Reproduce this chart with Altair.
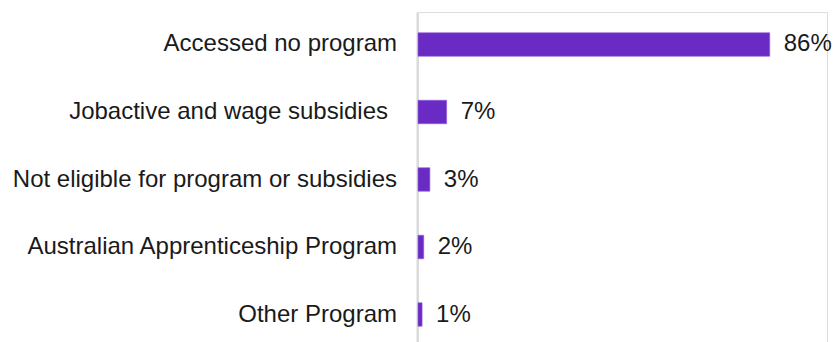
import altair as alt
import pandas as pd

categories = [
    "Accessed no program",
    "Jobactive and wage subsidies",
    "Not eligible for program or subsidies",
    "Australian Apprenticeship Program",
    "Other Program",
]
values = [86, 7, 2.9, 1.4, 1.0]
labels = ["86%", "7%", "3%", "2%", "1%"]
# the original label for Jobactive carries a trailing space, shifting it left
trailing_space = [False, True, False, False, False]

df = pd.DataFrame(
    {"category": categories, "value": values, "label": labels, "trail": trailing_space}
)

FONT = "Liberation Sans, Arial, sans-serif"
BAR = "#6A2BC4"
TXT = "#1a1a1a"

y = alt.Y(
    "category:N",
    sort=categories,
    scale=alt.Scale(paddingInner=0.652, paddingOuter=0.2704, align=0.5685),
    axis=alt.Axis(
        title=None,
        ticks=False,
        grid=False,
        labels=False,
        domain=True,
        domainColor="#D9D9D9",
        domainWidth=2,
        offset=1,
    ),
)
x = alt.X("value:Q", scale=alt.Scale(domain=[0, 100], nice=False), axis=None)

bars = alt.Chart(df).mark_bar(color=BAR, stroke="#8F5BD8", strokeWidth=0.6).encode(x=x, y=y)
text = alt.Chart(df).mark_text(
    align="left", baseline="middle", dx=14, fontSize=24, font=FONT, color=TXT
).encode(x=x, y=y, text="label:N")

cat_plain = (
    alt.Chart(df)
    .transform_filter("!datum.trail")
    .mark_text(align="right", baseline="middle", fontSize=24, font=FONT, color=TXT, dx=-21)
    .encode(x=alt.value(0), y=y, text="category:N")
)
cat_trail = (
    alt.Chart(df)
    .transform_filter("datum.trail")
    .mark_text(align="right", baseline="middle", fontSize=24, font=FONT, color=TXT, dx=-30)
    .encode(x=alt.value(0), y=y, text="category:N")
)

chart = (
    alt.layer(bars, text, cat_plain, cat_trail)
    .properties(
        width=409,
        height=330,
        autosize=alt.AutoSizeParams(type="none"),
        padding={"left": 418, "top": 12, "right": 8, "bottom": 0},
    )
    .configure_view(stroke=None)
    .configure(background="white")
)

chart.save("out.html", embed_options={"renderer": "svg", "actions": False})
